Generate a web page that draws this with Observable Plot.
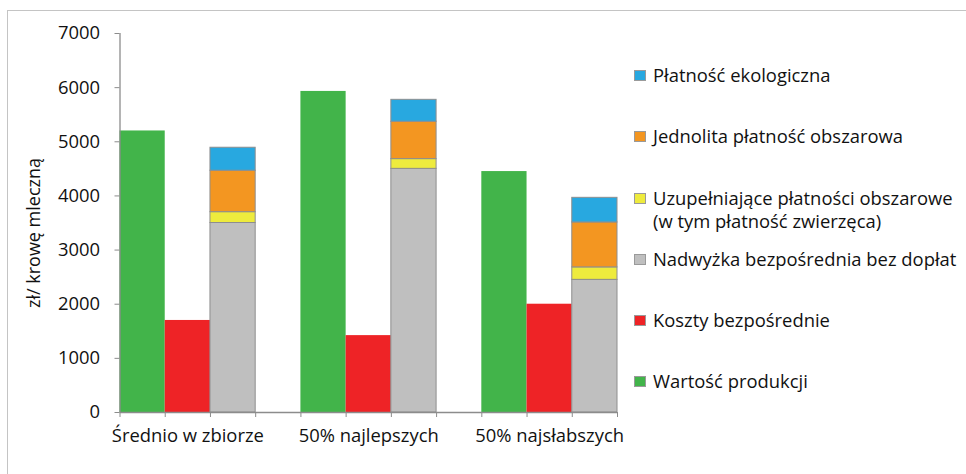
<!DOCTYPE html>
<html><head><meta charset="utf-8">
<script src="https://cdn.jsdelivr.net/npm/d3@7"></script>
<script src="https://cdn.jsdelivr.net/npm/@observablehq/plot@0.6"></script>
<style>
body{margin:0;background:#fff;font-family:"Open Sans",sans-serif;}
#wrap{position:relative;width:966px;height:474px;overflow:hidden;background:#fff;}
#frame{position:absolute;left:7px;top:10px;width:1000px;height:500px;border:1.5px solid #c4c4c4;box-sizing:border-box;}
#chart{position:absolute;left:0;top:0;}
.item{position:absolute;left:634px;font-size:18.4px;line-height:23px;color:#111;white-space:nowrap;}
.sw{position:absolute;left:0;top:7px;width:12px;height:11px;box-sizing:border-box;border:1px solid #9a9a9a;}
.lbl{margin-left:19px;}
</style></head><body>
<div id="wrap"><div id="frame"></div><div id="chart"></div><div id="legend"></div></div>
<script>
const categories = ["Średnio w zbiorze", "50% najlepszych", "50% najsłabszych"];
const wartoscProdukcji = [5200, 5930, 4450];
const kosztyBezposrednie = [1700, 1420, 2000];
const nadwyzkaBezDoplat = [3500, 4500, 2450];
const uzupelniajace = [200, 180, 230];
const jednolita = [765, 690, 830];
const ekologiczna = [425, 405, 455];
const yTicks = [0, 1000, 2000, 3000, 4000, 5000, 6000, 7000];

const legendSeries = [
  {name: "Płatność ekologiczna", color: "#28a8e0"},
  {name: "Jednolita płatność obszarowa", color: "#f39621"},
  {name: "Uzupełniające płatności obszarowe<br>(w tym płatność zwierzęca)", color: "#eeeb3d"},
  {name: "Nadwyżka bezpośrednia bez dopłat", color: "#bfbfbf"},
  {name: "Koszty bezpośrednie", color: "#ee2326"},
  {name: "Wartość produkcji", color: "#42b44a"}
];
const C = {eko: "#28a8e0", jed: "#f39621", uzu: "#eeeb3d", nad: "#bfbfbf", kos: "#ee2326", war: "#42b44a"};

const slotsPerGroup = 4;
const rows = [];
categories.forEach((c, i) => {
  const base = i * slotsPerGroup;
  rows.push({x1: base, x2: base + 1, y1: 0, y2: wartoscProdukcji[i], fill: C.war, stroked: false});
  rows.push({x1: base + 1, x2: base + 2, y1: 0, y2: kosztyBezposrednie[i], fill: C.kos, stroked: false});
  let acc = 0;
  [[nadwyzkaBezDoplat[i], C.nad], [uzupelniajace[i], C.uzu], [jednolita[i], C.jed], [ekologiczna[i], C.eko]].forEach(([v, col]) => {
    rows.push({x1: base + 2, x2: base + 3, y1: acc, y2: acc + v, fill: col, stroked: true});
    acc += v;
  });
});
const nSlots = categories.length * slotsPerGroup - 1;
const xTicks = d3.range(0, nSlots + 1);

const chart = Plot.plot({
  width: 966,
  height: 474,
  marginLeft: 119.5,
  marginRight: 349,
  marginTop: 33,
  marginBottom: 62,
  style: {fontFamily: "Open Sans, sans-serif", fontSize: "18.4px", color: "#111", background: "transparent"},
  x: {domain: [0, nSlots], axis: null},
  y: {domain: [0, 7000], axis: null},
  color: {type: "identity"},
  marks: [
    Plot.rect(rows, {x1: "x1", x2: "x2", y1: "y1", y2: "y2", fill: "fill", stroke: d => d.stroked ? "#8e8e8e" : "none", strokeWidth: 1}),
    Plot.ruleY([0], {stroke: "#8c8c8c", strokeWidth: 1.3}),
    Plot.ruleX([0], {stroke: "#8c8c8c", strokeWidth: 1.3}),
    Plot.axisY({ticks: yTicks, tickSize: 5, tickPadding: 15, stroke: "#8c8c8c", fill: "#111", label: null, tickFormat: d => String(d)}),
    Plot.axisX({ticks: xTicks, tickSize: 5, stroke: "#8c8c8c", tickFormat: () => "", label: null}),
    Plot.text(categories, {x: (d, i) => i * slotsPerGroup + 1.5, frameAnchor: "bottom", dy: 29, text: d => d, fill: "#111", fontSize: 18.4}),
    Plot.text(["zł/ krowę mleczną"], {frameAnchor: "left", rotate: -90, textAnchor: "middle", dx: -86, dy: 10, fill: "#111", fontSize: 18})
  ]
});
document.getElementById("chart").appendChild(chart);

const legend = document.getElementById("legend");
legendSeries.forEach((s, i) => {
  const el = document.createElement("div");
  el.className = "item";
  el.style.top = (63.2 + i * 61.2) + "px";
  el.innerHTML = `<span class="sw" style="background:${s.color}"></span><div class="lbl">${s.name}</div>`;
  legend.appendChild(el);
});
</script>
</body></html>
